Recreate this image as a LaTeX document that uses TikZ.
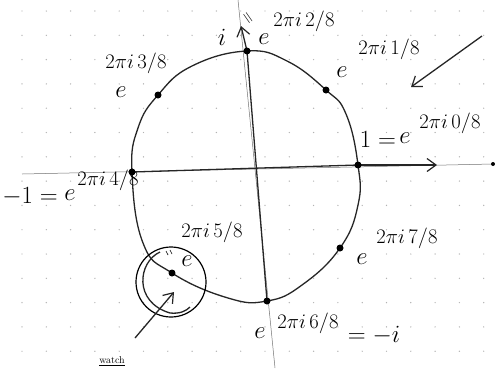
\documentclass[tikz,border=0pt]{standalone}
\usetikzlibrary{arrows.meta}
\begin{document}
\begin{tikzpicture}[x=1bp,y=-1bp,
  pen/.style={line width=1.3bp, black!85},
  faint/.style={line width=0.5bp, black!55},
  pt/.style={circle, fill=black, inner sep=0pt, minimum size=7bp},
  ee/.style={font=\fontsize{33}{35}\selectfont, inner sep=0pt},
  ex/.style={font=\fontsize{22}{24}\selectfont, inner sep=0pt},
  lab/.style={font=\fontsize{25}{27}\selectfont, inner sep=0pt},
  tip/.style={-{Straight Barb[length=9bp,width=13bp,line width=1.2bp]}}]
\useasboundingbox (0,0) rectangle (495,368);
\fill[white] (0,0) rectangle (495,368);
% dot grid
\foreach \i in {0,...,20} \foreach \j in {0,...,15}
  \fill[black!30] (-2.3+24.3*\i, 11+24.3*\j) circle (0.7bp);
% roots of unity
\coordinate (p0) at (358,165);
\coordinate (p1) at (326,90);
\coordinate (p2) at (247,51);
\coordinate (p3) at (158,95);
\coordinate (p4) at (132,172);
\coordinate (p5) at (172,273);
\coordinate (p6) at (267,301);
\coordinate (p7) at (340,248);
% axis ends
\coordinate (vt) at (238,0);
\coordinate (vb) at (275,368);
\coordinate (vtip) at (241,26);
\coordinate (hl) at (22,174);
\coordinate (hr) at (493,164);
\coordinate (htip) at (437,165);
% faint pencil axes
\draw[faint] (vt) -- (vb);
\draw[faint] (hl) -- (hr);
\fill (hr) circle (2bp);
% circle
\draw[pen] plot[smooth cycle, tension=0.75] coordinates {
  (p2) (287,61) (p1) (346,114) (p0) (358,205) (p7) (302,285) (p6) (228,298)
  (p5) (143,243) (p4) (138,128) (p3) (192,66)};
% axes
\draw[pen] (p2) -- (p6);
\draw[pen,tip] (p2) -- (vtip);
\draw[pen] (p4) -- (p0);
\draw[pen,tip] (p0) -- (htip);
% points
\foreach \p in {p0,p1,p2,p3,p4,p5,p6,p7} \node[pt] at (\p) {};
% top-right arrow
\coordinate (ta) at (482,36);
\coordinate (tb) at (411,87);
\draw[pen,tip] (ta) -- (tb);
% magnifier around 5/8
\node[draw, circle, line width=1.2bp, minimum size=70bp, inner sep=0pt] (mag) at (171,282) {};
\draw[pen] (160,252) .. controls (138,262) and (133,302) .. (170,313) .. controls (180,314) and (186,311) .. (190,307);
\draw[line width=0.6bp] (166,251) -- (168,255) (170,250) -- (172,254);
\coordinate (ma) at (135,338);
\coordinate (mb) at (174,292);
\draw[pen,tip] (ma) -- (mb);
\node[font=\fontsize{10}{11}\selectfont, inner sep=0pt] (note) at (112,361) {\underline{watch}};
% labels
\node[lab] (li) at (222,37) {$i$};
\node[font=\fontsize{18}{20}\selectfont, inner sep=0pt, rotate=-55] (leq) at (247,19) {$=$};
\node[ee] (e2) at (264,39) {$e$};
\node[ex] (x2) at (304,21) {$2\pi i\,2/8$};
\node[ee] (e1) at (342,72) {$e$};
\node[ex] (x1) at (389,49) {$2\pi i\,1/8$};
\node[ex] (x3) at (136,63) {$2\pi i\,3/8$};
\node[ee] (e3) at (121,92) {$e$};
\node[lab] (m1) at (30,197) {$-1=$};
\node[ee] (e4) at (70,195) {$e$};
\node[ex] (x4) at (108,180) {$2\pi i\,4/8$};
\node[lab] (one) at (378,140) {$1=$};
\node[ee] (e0) at (405,138) {$e$};
\node[ex] (x0) at (450,123) {$2\pi i\,0/8$};
\node[ex] (x7) at (407,238) {$2\pi i\,7/8$};
\node[ee] (e7) at (362,259) {$e$};
\node[ex] (x5) at (212,232) {$2\pi i\,5/8$};
\node[ee] (e5) at (187,261) {$e$};
\node[ee] (e6) at (260,333) {$e$};
\node[ex] (x6) at (308,323) {$2\pi i\,6/8$};
\node[lab] (mi) at (374,335) {$=-i$};
\end{tikzpicture}
\end{document}
